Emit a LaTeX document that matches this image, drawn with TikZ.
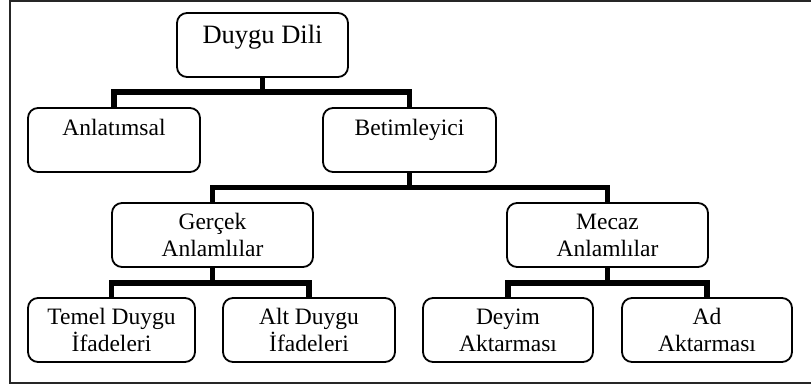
\documentclass[tikz,border=0pt]{standalone}
\usepackage{fontspec}
\setmainfont{Liberation Serif}
\begin{document}
\begin{tikzpicture}[x=1pt,y=-1pt,
  box/.style={draw, line width=1.8pt, rounded corners=10pt, inner xsep=2pt, inner ysep=0pt,
    align=center, font=\fontsize{23.5}{27}\selectfont},
  onebox/.style={box, text height=28pt, text depth=36pt},
  twobox/.style={box, minimum height=64pt},
  conn/.style={line width=5.5pt, miter limit=10}]
\useasboundingbox (0,0) rectangle (811,387);
\draw[line width=1.4pt, black!85] (815,1) -- (10,1) -- (10,383) -- (815,383);

\node[box, font=\fontsize{26.5}{30}\selectfont, text height=31pt, text depth=33pt, minimum width=171pt] (root) at (262.5,45) {Duygu Dili};
\node[onebox, minimum width=172pt] (anl) at (114,140) {Anlatımsal};
\node[onebox, minimum width=173pt] (bet) at (409.5,140) {Betimleyici};
\node[twobox, minimum width=201pt] (ger) at (212.5,235) {Gerçek\\Anlamlılar};
\node[twobox, minimum width=201pt] (mec) at (607.5,235) {Mecaz\\Anlamlılar};
\node[twobox, minimum width=167pt] (tem) at (111.5,330) {Temel Duygu\\İfadeleri};
\node[twobox, minimum width=172pt] (alt) at (309,330) {Alt Duygu\\İfadeleri};
\node[twobox, minimum width=170pt] (dey) at (508,330) {Deyim\\Aktarması};
\node[twobox, minimum width=170pt] (ad) at (707,330) {Ad\\Aktarması};

\coordinate (h1) at (0,92);
\coordinate (h2) at (0,187.5);
\coordinate (h3) at (0,283);

\draw[conn] (root.south) -- (root.south |- h1) -| (anl.north);
\draw[conn] (root.south |- h1) -| (bet.north);
\draw[conn] (bet.south) -- (bet.south |- h2) -| (ger.north);
\draw[conn] (bet.south |- h2) -| (mec.north);
\draw[conn] (ger.south) -- (ger.south |- h3) -| (tem.north);
\draw[conn] (ger.south |- h3) -| (alt.north);
\draw[conn] (mec.south) -- (mec.south |- h3) -| (dey.north);
\draw[conn] (mec.south |- h3) -| (ad.north);
\end{tikzpicture}
\end{document}
